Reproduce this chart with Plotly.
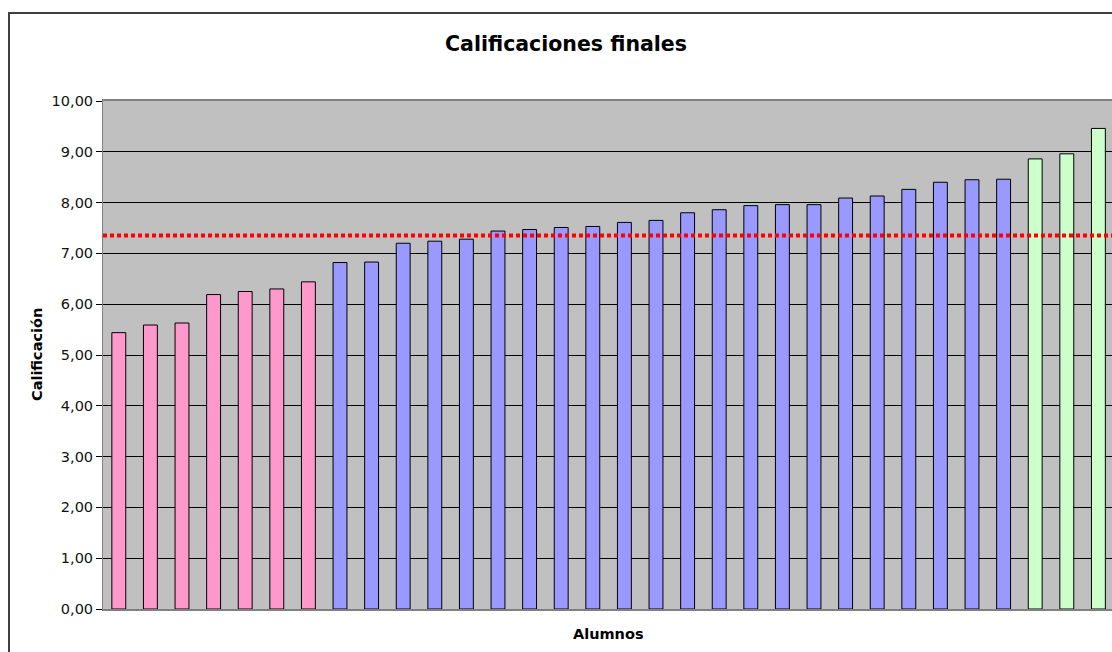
import plotly.graph_objects as go

# ---- data ----
pink_values = [5.44, 5.59, 5.63, 6.19, 6.25, 6.30, 6.44]
blue_values = [6.82, 6.83, 7.20, 7.24, 7.28, 7.44, 7.47, 7.51, 7.53, 7.61, 7.65,
               7.80, 7.86, 7.94, 7.96, 7.96, 8.09, 8.13, 8.26, 8.40, 8.45, 8.46]
green_values = [8.86, 8.96, 9.46]
reference_line = 7.35
y_ticks = [0, 1, 2, 3, 4, 5, 6, 7, 8, 9, 10]

title_text = "Calificaciones finales"
x_title = "Alumnos"
y_title = "Calificación"

FONT = "DejaVu Sans"
W, H = 1112, 652
L, T = 103, 101
BOTTOM = 609
B = H - BOTTOM
plot_w = W - L
plot_h = H - T - B

cat_px = 31.6
x_max = -0.5 + plot_w / cat_px

def px_x(p):
    return (p - L) / plot_w

def px_y(p):
    return (BOTTOM - p) / plot_h

groups = [(pink_values, "#FF99CC"), (blue_values, "#9999FF"), (green_values, "#CCFFCC")]
fig = go.Figure()
start = 0
for vals, col in groups:
    xs = list(range(start, start + len(vals)))
    start += len(vals)
    fig.add_trace(go.Bar(x=xs, y=vals, marker=dict(color=col, line=dict(color="black", width=1)),
                         showlegend=False, hoverinfo="y"))

fig.update_layout(
    width=W, height=H,
    margin=dict(l=L, r=0, t=T, b=B, pad=0),
    paper_bgcolor="white", plot_bgcolor="#C0C0C0",
    bargap=0.56,
    separators=",.",
    font=dict(family=FONT, size=14, color="black"),
    xaxis=dict(range=[-0.5, x_max], showticklabels=False, ticks="", showgrid=False,
               zeroline=False, showline=True, linecolor="#808080", linewidth=2, mirror=True,
               fixedrange=True),
    yaxis=dict(range=[0, 10], tickvals=y_ticks, tickformat=".2f", ticks="outside", ticklen=6,
               tickcolor="black", showgrid=True, gridcolor="black", gridwidth=1,
               zeroline=False, showline=True, linecolor="#808080", linewidth=1,
               tickfont=dict(family=FONT, size=14.5, color="#111"), fixedrange=True),
    shapes=[
        dict(type="line", xref="paper", yref="y", x0=0, x1=1, y0=reference_line, y1=reference_line,
             line=dict(color="#FF0000", width=4, dash="4px,3px"), layer="above"),
        dict(type="rect", xref="paper", yref="paper", x0=px_x(9), x1=1.2, y0=px_y(13), y1=-0.3,
             line=dict(color="#404040", width=2), layer="below"),
    ],
    annotations=[
        dict(text="<b>" + title_text + "</b>", xref="paper", yref="paper", x=px_x(566), y=px_y(44),
             xanchor="center", yanchor="middle", showarrow=False, font=dict(family=FONT, size=20.5)),
        dict(text="<b>" + y_title + "</b>", xref="paper", yref="paper", x=px_x(37), y=0.5,
             textangle=-90, xanchor="center", yanchor="middle", showarrow=False,
             font=dict(family=FONT, size=14.5)),
        dict(text="<b>" + x_title + "</b>", xref="paper", yref="paper", x=px_x(608), y=px_y(634),
             xanchor="center", yanchor="middle", showarrow=False, font=dict(family=FONT, size=14.5)),
    ],
)

fig.write_html("out.html", config={"displayModeBar": False},
               post_script="document.body.style.margin='0';document.body.style.overflow='hidden';")
